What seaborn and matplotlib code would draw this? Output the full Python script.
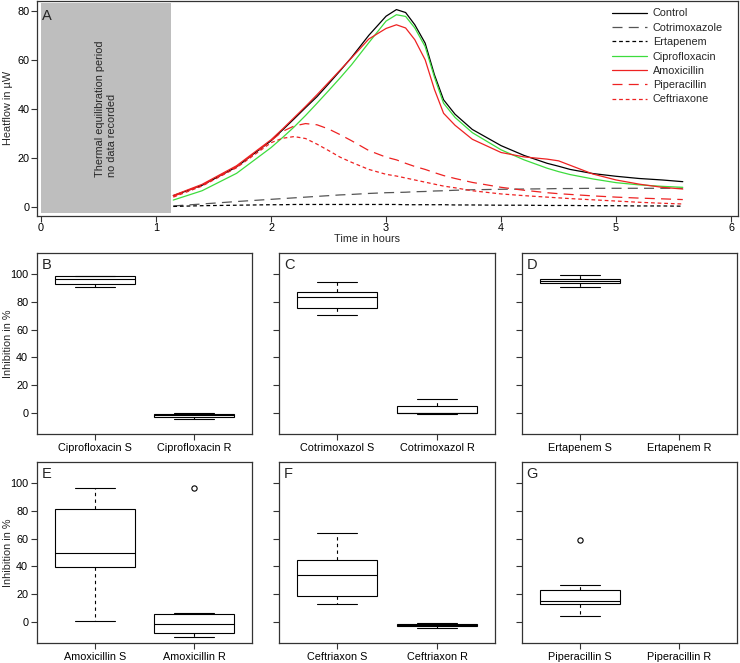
import numpy as np
import pandas as pd
import matplotlib
matplotlib.use("Agg")
import matplotlib.pyplot as plt
from matplotlib.patches import Rectangle
import seaborn as sns

# ---------------- data: panel A (heat flow curves) ----------------
time_h = [1.15, 1.4, 1.7, 2.0, 2.1, 2.2, 2.3, 2.4, 2.5, 2.6, 2.7, 2.85, 3.0, 3.09,
          3.17, 3.25, 3.34, 3.42, 3.5, 3.6, 3.75, 4.0, 4.2, 4.4, 4.5, 4.6, 4.8,
          5.0, 5.2, 5.4, 5.58]
control = [4.6, 8.8, 16.3, 27.0, 31.4, 35.9, 40.5, 45.0, 50.2, 55.5, 61.0, 70.0, 77.8, 80.5,
           79.3, 74.3, 66.8, 54.0, 43.7, 37.8, 31.6, 25.0, 21.0, 17.8, 16.6, 15.3, 13.6,
           12.5, 11.6, 11.0, 10.3]
cotrimoxazole = [0.4, 1.2, 2.2, 3.1, 3.4, 3.7, 4.0, 4.3, 4.6, 4.9, 5.1, 5.5, 5.8, 5.9,
                 6.0, 6.2, 6.3, 6.5, 6.6, 6.8, 7.0, 7.2, 7.3, 7.4, 7.5, 7.5, 7.6,
                 7.6, 7.6, 7.6, 7.6]
ertapenem = [0.2, 0.5, 0.7, 0.9, 0.9, 1.0, 1.0, 1.0, 1.0, 1.0, 1.0, 1.0, 1.0, 1.0,
             0.9, 0.9, 0.9, 0.9, 0.9, 0.8, 0.8, 0.7, 0.7, 0.6, 0.6, 0.6, 0.5,
             0.5, 0.4, 0.4, 0.3]
ciprofloxacin = [2.8, 6.6, 13.7, 24.2, 28.3, 32.6, 37.3, 42.3, 47.4, 52.6, 58.0, 67.0, 75.8, 78.4,
                 77.7, 73.0, 65.4, 53.0, 42.3, 36.5, 30.3, 23.3, 19.2, 15.8, 14.4, 13.2, 11.4,
                 9.9, 9.0, 8.4, 8.0]
amoxicillin = [4.7, 9.2, 16.8, 27.4, 31.8, 36.4, 41.0, 45.8, 50.8, 55.8, 60.8, 68.5, 72.8, 74.3,
               73.0, 68.2, 60.0, 48.0, 38.2, 33.3, 27.6, 22.2, 20.4, 19.5, 18.8, 17.0, 13.4,
               11.0, 9.3, 8.0, 7.3]
piperacillin = [4.3, 8.9, 16.4, 27.0, 30.8, 33.0, 34.0, 33.5, 31.8, 29.5, 27.0, 23.0, 20.3, 19.2,
                17.8, 16.5, 15.3, 14.0, 12.8, 11.6, 10.0, 8.0, 6.8, 5.8, 5.4, 5.1, 4.5,
                4.0, 3.6, 3.3, 3.0]
ceftriaxone = [4.0, 8.5, 16.0, 26.2, 28.0, 28.7, 27.9, 25.6, 23.0, 20.3, 18.2, 15.3, 13.3, 12.6,
               11.8, 11.0, 10.1, 9.3, 8.5, 7.8, 6.6, 5.3, 4.6, 4.0, 3.7, 3.4, 2.9,
               2.4, 1.9, 1.5, 1.2]
series_names = ["Control", "Cotrimoxazole", "Ertapenem", "Ciprofloxacin",
                "Amoxicillin", "Piperacillin", "Ceftriaxone"]
series_values = [control, cotrimoxazole, ertapenem, ciprofloxacin,
                 amoxicillin, piperacillin, ceftriaxone]
x_ticks_A = [0, 1, 2, 3, 4, 5, 6]
y_ticks_A = [0, 20, 40, 60, 80]
equilibration_end_h = 1.13

# ---------------- data: panels B-G (inhibition boxplots) ----------------
cipro_S = [90.2, 92.6, 96.0, 98.0, 98.6]
cipro_R = [-3.8, -2.4, -1.0, -0.2, 0.0]
cotri_S = [70.5, 75.7, 83.1, 86.6, 94.3]
cotri_R = [-0.2, 0.0, 0.3, 5.5, 10.5]
erta_S = [90.7, 93.3, 94.8, 96.2, 98.8]
erta_R = []
amox_S = [0.7, 39.7, 50.0, 81.2, 95.9]
amox_R = [-10.5, -9.0, -7.6, -4.0, -1.4, 2.0, 5.7, 6.4, 96.4]
ceft_S = [13.1, 18.8, 33.6, 44.7, 64.3]
ceft_R = [-4.3, -2.9, -1.6, -1.0, -0.5]
pip_S = [4.5, 10.0, 12.9, 14.0, 15.0, 20.0, 23.1, 26.9, 58.8]
pip_R = []
box_panels = [
    ("B", "Ciprofloxacin S", cipro_S, "Ciprofloxacin R", cipro_R),
    ("C", "Cotrimoxazol S", cotri_S, "Cotrimoxazol R", cotri_R),
    ("D", "Ertapenem S", erta_S, "Ertapenem R", erta_R),
    ("E", "Amoxicillin S", amox_S, "Amoxicillin R", amox_R),
    ("F", "Ceftriaxon S", ceft_S, "Ceftriaxon R", ceft_R),
    ("G", "Piperacillin S", pip_S, "Piperacillin R", pip_R),
]
y_ticks_box = [0, 20, 40, 60, 80, 100]

# ---------------- style ----------------
sns.set_style("ticks")
plt.rcParams["font.family"] = ["Liberation Sans", "DejaVu Sans"]
FS = 7.8
SPINE = "#333333"
plt.rcParams.update({
    "axes.edgecolor": SPINE,
    "axes.linewidth": 0.9,
    "xtick.color": SPINE,
    "ytick.color": SPINE,
    "xtick.labelcolor": "black",
    "ytick.labelcolor": "black",
})

W, H = 740, 663
fig = plt.figure(figsize=(W / 100, H / 100), dpi=100)


def fig_rect(x0, y0, x1, y1):
    return [x0 / W, 1 - y1 / H, (x1 - x0) / W, (y1 - y0) / H]


# ---------------- panel A ----------------
axA = fig.add_axes(fig_rect(37, 1, 738, 216))
styles = {
    "Control": dict(color="black", linestyle="-"),
    "Cotrimoxazole": dict(color="#555555", linestyle=(0, (8, 5))),
    "Ertapenem": dict(color="black", linestyle=(0, (3, 2.3))),
    "Ciprofloxacin": dict(color="#3ddc3d", linestyle="-"),
    "Amoxicillin": dict(color="#ee2222", linestyle="-"),
    "Piperacillin": dict(color="#ee2222", linestyle=(0, (8, 5))),
    "Ceftriaxone": dict(color="#ee2222", linestyle=(0, (3, 2.3))),
}
axA.add_patch(Rectangle((0, -2.5), equilibration_end_h, 85.5, facecolor="#bebebe",
                        edgecolor="none", zorder=0))
for name, vals in zip(series_names, series_values):
    sns.lineplot(x=time_h, y=vals, ax=axA, label=name, linewidth=0.9,
                 estimator=None, sort=False, **styles[name])
axA.set_xlim(-0.035, 6.06)
axA.set_ylim(-3.7, 84)
axA.set_xticks(x_ticks_A)
axA.set_yticks(y_ticks_A)
axA.tick_params(labelsize=FS, length=4.3, width=0.8, pad=1.0)
axA.set_xlabel("")
axA.set_ylabel("")
handles, labels = axA.get_legend_handles_labels()
axA.get_legend().remove()
fig.legend(handles, labels, loc="upper left", bbox_to_anchor=(612 / W, 1 - 8.5 / H),
           frameon=False, fontsize=FS, handlelength=3.2, handletextpad=0.55,
           labelspacing=0.4, borderpad=0, borderaxespad=0)
axA.text(0.565, 12.2, "Thermal equilibration period\nno data recorded", rotation=90,
         ha="center", va="bottom", multialignment="left", fontsize=FS, linespacing=1.15)
axA.text(0.007, 0.961, "A", transform=axA.transAxes, ha="left", va="top", fontsize=10.5)
fig.text(367 / W, 1 - 238.5 / H, "Time in hours", ha="center", va="center", fontsize=FS)
fig.text(8 / W, 1 - 108 / H, "Heatflow in µW", rotation=90, ha="center", va="center",
         fontsize=FS)

# ---------------- panels B-G ----------------
cols = [(37, 252), (279, 495), (522, 737)]
rows = [(253, 434), (462, 643)]
for i, (letter, s_lab, s_vals, r_lab, r_vals) in enumerate(box_panels):
    r, c = divmod(i, 3)
    x0, x1 = cols[c]
    y0, y1 = rows[r]
    ax = fig.add_axes(fig_rect(x0, y0, x1, y1))
    df = pd.DataFrame({
        "group": [s_lab] * len(s_vals) + [r_lab] * len(r_vals),
        "value": list(s_vals) + list(r_vals),
    })
    sns.boxplot(data=df, x="group", y="value", order=[s_lab, r_lab], ax=ax,
                width=0.8, color="white", linecolor="black", linewidth=0.8,
                saturation=1, whis=1.5,
                whiskerprops=dict(linestyle=(0, (3, 3))),
                capprops=dict(linestyle="-"),
                flierprops=dict(marker="o", markersize=3.8, markerfacecolor="none",
                                markeredgecolor="black", markeredgewidth=0.8))
    ax.set_xlim(-0.58, 1.58)
    ax.set_ylim(-14.8, 114.8)
    ax.set_yticks(y_ticks_box)
    ax.set_xticks([0, 1])
    ax.set_xticklabels([s_lab, r_lab])
    ax.tick_params(labelsize=FS, length=4.3, width=0.8, pad=2)
    if c != 0:
        ax.tick_params(axis="y", labelleft=False)
    ax.set_xlabel("")
    ax.set_ylabel("")
    ax.text(0.022, 0.971, letter, transform=ax.transAxes, ha="left", va="top",
            fontsize=10.5)
    if c == 0:
        fig.text(8 / W, 1 - ((y0 + y1) / 2) / H, "Inhibition in %", rotation=90,
                 ha="center", va="center", fontsize=FS)

fig.savefig("out.png", dpi=100)
